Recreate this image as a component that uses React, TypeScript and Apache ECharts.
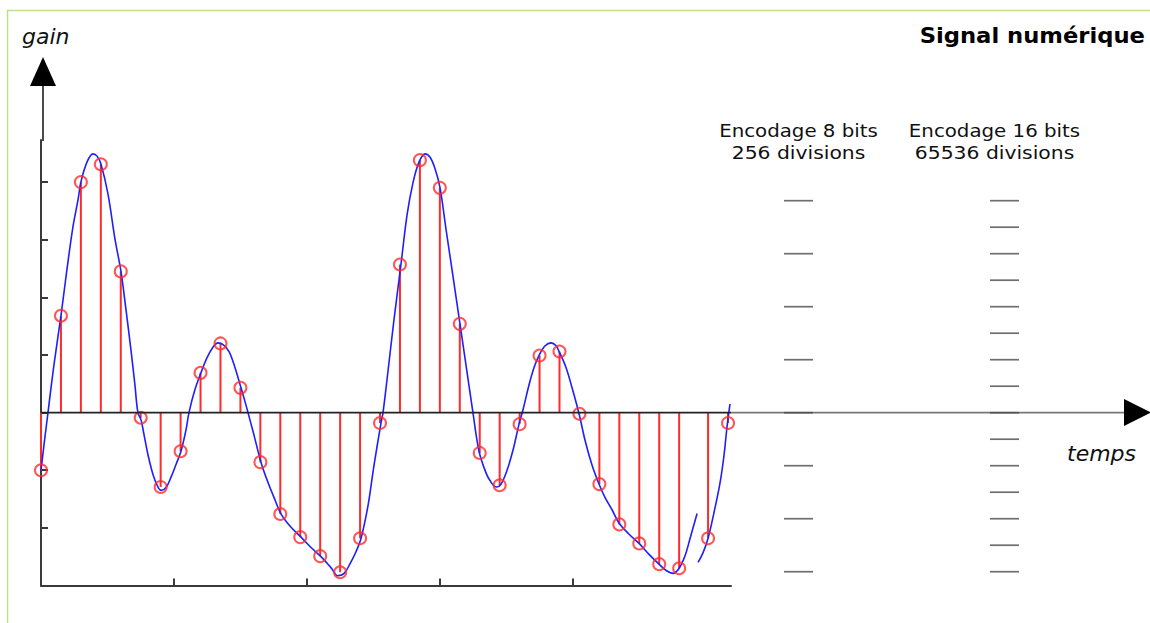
import React, { useEffect, useRef } from "react";
import * as echarts from "echarts";

// ---- data ----
// sample instants (in sample periods) and sampled gain values
const sampleT: number[] = [
  0, 1, 2, 3, 4, 5, 6, 7, 8, 9, 10, 11, 12, 13, 14, 15, 16, 17, 18, 19, 20,
  21, 22, 23, 24, 25, 26, 27, 28, 29, 30, 31, 32, 33.45, 34.45,
];
const sampleV: number[] = [
  -1.0, 1.68, 4.0, 4.31, 2.45, -0.09, -1.29, -0.67, 0.69, 1.2, 0.43, -0.86,
  -1.76, -2.16, -2.49, -2.77, -2.18, -0.18, 2.57, 4.38, 3.9, 1.54, -0.7,
  -1.26, -0.2, 0.99, 1.06, -0.02, -1.24, -1.94, -2.27, -2.63, -2.7, -2.18,
  -0.18,
];
// analog signal, first piece
const curveA: [number, number][] = [
  [0, -1.0], [0.15, -0.56], [0.35, 0], [0.65, 0.83], [1.0, 1.68], [1.3, 2.48],
  [1.6, 3.22], [1.86, 3.7], [2.0, 4.0], [2.31, 4.35], [2.61, 4.49], [2.81, 4.45],
  [3.01, 4.31], [3.36, 3.79], [3.71, 3.01], [4.01, 2.45], [4.26, 1.79],
  [4.51, 1.09], [4.71, 0.48], [4.86, 0], [5.02, -0.13], [5.17, -0.39],
  [5.37, -0.74], [5.62, -1.08], [5.82, -1.26], [6.02, -1.35], [6.27, -1.3],
  [6.52, -1.12], [6.77, -0.9], [7.02, -0.67], [7.27, -0.3], [7.42, 0],
  [7.72, 0.4], [8.02, 0.69], [8.32, 0.95], [8.63, 1.14], [8.88, 1.21],
  [9.13, 1.18], [9.43, 1.06], [9.73, 0.78], [10.03, 0.43], [10.23, 0.19],
  [10.38, 0], [10.68, -0.39], [11.03, -0.86], [11.38, -1.21], [11.74, -1.52],
  [12.04, -1.76], [12.54, -1.99], [13.04, -2.16], [13.54, -2.34], [14.04, -2.5],
  [14.54, -2.69], [14.89, -2.83], [15.2, -2.79], [15.5, -2.62], [15.8, -2.41],
  [16.05, -2.18], [16.4, -1.61], [16.7, -0.91], [17.05, -0.18], [17.15, 0],
  [17.35, 0.57], [17.7, 1.61], [18.05, 2.57], [18.36, 3.44], [18.66, 4.0],
  [18.96, 4.35], [19.26, 4.49], [19.51, 4.43], [19.76, 4.23], [20.01, 3.9],
  [20.31, 3.18], [20.61, 2.48], [21.01, 1.54], [21.31, 0.83], [21.66, 0],
  [21.97, -0.68], [22.32, -1.05], [22.57, -1.21], [22.82, -1.29], [23.07, -1.24],
  [23.37, -1.0], [23.67, -0.65], [23.97, -0.2], [24.17, 0.05], [24.47, 0.48],
  [24.72, 0.78], [24.97, 0.99], [25.28, 1.16], [25.58, 1.21], [25.83, 1.16],
  [25.98, 1.06], [26.33, 0.78], [26.63, 0.43], [26.98, -0.02], [27.28, -0.48],
  [27.63, -0.91], [27.98, -1.24], [28.28, -1.47], [28.64, -1.69], [28.99, -1.92],
  [29.49, -2.11], [29.99, -2.27], [30.49, -2.46], [30.99, -2.63], [31.35, -2.74],
  [31.7, -2.79], [32.0, -2.7], [32.3, -2.48], [32.55, -2.18], [32.9, -1.75],
];
// analog signal, second piece
const curveB: [number, number][] = [
  [32.95, -2.6], [33.2, -2.43], [33.45, -2.18], [33.75, -1.73], [34.05, -1.22],
  [34.25, -0.74], [34.4, -0.25], [34.55, 0.15],
];
const timeTicks: number[] = [6.67, 13.34, 20.01, 26.68];
const gainTicks: number[] = [-3, -2, -1, 0, 1, 2, 3, 4];
const encodings: string[] = ["8 bits", "16 bits"];
const levels8: number[] = [4, 3, 2, 1, 0, -1, -2, -3];
const levels16: number[] = [
  4, 3.5, 3, 2.5, 2, 1.5, 1, 0.5, 0, -0.5, -1, -1.5, -2, -2.5, -3,
];
const encTitles: string[] = ["Encodage 8 bits", "Encodage 16 bits"];
const encDivisions: string[] = ["256 divisions", "65536 divisions"];
const chartTitle = "Signal numérique";
const yName = "gain";
const xName = "temps";

const FONT = "'DejaVu Sans', Verdana, sans-serif";
const AXIS = "#3a3a3a";
const RED = "#ff2a2a";
const BLUE = "#1e1eff";

export default function App() {
  const ref = useRef<HTMLDivElement>(null);
  useEffect(() => {
    if (!ref.current) return;
    const chart = echarts.init(ref.current, null, { renderer: "svg" });
    const option: any = {
      animation: false,
      backgroundColor: "#ffffff",
      grid: [
        { left: 41, right: 419, top: 140, bottom: 37.5 },
        { left: 695.5, right: 42.5, top: 140, bottom: 37.5 },
      ],
      xAxis: [
        {
          type: "value",
          gridIndex: 0,
          min: 0,
          max: 34.6,
          axisLine: { show: true, onZero: false, lineStyle: { color: AXIS, width: 2 } },
          axisTick: {
            show: true,
            inside: true,
            length: 7,
            customValues: timeTicks,
            lineStyle: { color: AXIS, width: 2 },
          },
          axisLabel: { show: false },
          splitLine: { show: false },
        },
        {
          type: "category",
          gridIndex: 1,
          data: encodings,
          show: false,
        },
      ],
      yAxis: [
        {
          type: "value",
          gridIndex: 0,
          min: -3,
          max: 4.73,
          axisLine: { show: true, onZero: false, lineStyle: { color: AXIS, width: 2 } },
          axisTick: {
            show: true,
            inside: true,
            length: 7,
            customValues: gainTicks,
            lineStyle: { color: AXIS, width: 2 },
          },
          axisLabel: { show: false },
          splitLine: { show: false },
        },
        {
          type: "value",
          gridIndex: 1,
          min: -3.26,
          max: 5.145,
          show: false,
          splitLine: { show: false },
        },
      ],
      series: [
        {
          name: "stems",
          type: "bar",
          xAxisIndex: 0,
          yAxisIndex: 0,
          barWidth: 2,
          silent: true,
          itemStyle: { color: RED },
          data: sampleT.map((t, i) => [t, sampleV[i]]),
          z: 2,
        },
        {
          name: "signalA",
          type: "line",
          xAxisIndex: 0,
          yAxisIndex: 0,
          smooth: 0.35,
          showSymbol: false,
          silent: true,
          lineStyle: { color: BLUE, width: 1.6 },
          data: curveA,
          z: 3,
        },
        {
          name: "signalB",
          type: "line",
          xAxisIndex: 0,
          yAxisIndex: 0,
          smooth: 0.35,
          showSymbol: false,
          silent: true,
          lineStyle: { color: BLUE, width: 1.6 },
          data: curveB,
          z: 3,
        },
        {
          name: "samples",
          type: "scatter",
          xAxisIndex: 0,
          yAxisIndex: 0,
          symbol: "circle",
          symbolSize: 12,
          clip: true,
          silent: true,
          itemStyle: { color: "rgba(0,0,0,0)", borderColor: RED, borderWidth: 2 },
          data: sampleT.map((t, i) => [t, sampleV[i]]),
          z: 4,
        },
        {
          name: "levels",
          type: "scatter",
          xAxisIndex: 1,
          yAxisIndex: 1,
          symbol: "rect",
          symbolSize: [29, 1.7],
          silent: true,
          itemStyle: { color: "#4a4a4a" },
          data: [
            ...levels8.map((v) => [encodings[0], v]),
            ...levels16.map((v) => [encodings[1], v]),
          ],
        },
      ],
    };
    chart.setOption(option);

    const p0 = chart.convertToPixel({ gridIndex: 0 }, [0, 0]) as number[];
    const pEnd = chart.convertToPixel({ gridIndex: 0 }, [34.6, 0]) as number[];
    const zy = p0[1];
    const textCenters = [798.5, 994.5];

    const encTexts: any[] = [];
    textCenters.forEach((cx, i) => {
      encTexts.push({
        type: "text",
        x: cx,
        y: 130,
        scaleX: 1.1,
        style: {
          text: encTitles[i],
          fontFamily: FONT,
          fontSize: 18,
          fill: "#111",
          align: "center",
          verticalAlign: "middle",
        },
      });
      encTexts.push({
        type: "text",
        x: cx,
        y: 153,
        scaleX: 1.13,
        style: {
          text: encDivisions[i],
          fontFamily: FONT,
          fontSize: 18,
          fill: "#111",
          align: "center",
          verticalAlign: "middle",
        },
      });
    });

    chart.setOption({
      graphic: [
        {
          type: "polyline",
          shape: { points: [[7.5, 623], [7.5, 10.5], [1150, 10.5]] },
          style: { stroke: "#c3de8b", lineWidth: 1.5, fill: null },
          silent: true,
        },
        {
          type: "line",
          shape: { x1: 43, y1: 141, x2: 43, y2: 84 },
          style: { stroke: "#111", lineWidth: 1.5 },
          silent: true,
        },
        {
          type: "polygon",
          shape: { points: [[43, 57], [30, 86], [56, 86]] },
          style: { fill: "#000" },
          silent: true,
        },
        {
          type: "line",
          shape: { x1: p0[0], y1: zy, x2: pEnd[0], y2: zy },
          style: { stroke: "#222", lineWidth: 1.6 },
          z: 10,
          silent: true,
        },
        {
          type: "line",
          shape: { x1: pEnd[0], y1: zy, x2: 1126, y2: zy },
          style: { stroke: "#777", lineWidth: 1.6 },
          silent: true,
        },
        {
          type: "polygon",
          shape: { points: [[1124, zy - 13.5], [1151, zy], [1124, zy + 13.5]] },
          style: { fill: "#000" },
          silent: true,
        },
        {
          type: "text",
          x: 22,
          y: 36,
          style: {
            text: yName,
            fontFamily: FONT,
            fontStyle: "italic",
            fontSize: 22,
            fill: "#111",
            align: "left",
            verticalAlign: "middle",
          },
        },
        {
          type: "text",
          x: 1067,
          y: 453,
          style: {
            text: xName,
            fontFamily: FONT,
            fontStyle: "italic",
            fontSize: 22,
            fill: "#111",
            align: "left",
            verticalAlign: "middle",
          },
        },
        {
          type: "text",
          x: 1145,
          y: 36,
          scaleX: 1.08,
          style: {
            text: chartTitle,
            fontFamily: FONT,
            fontWeight: "bold",
            fontSize: 21,
            fill: "#000",
            align: "right",
            verticalAlign: "middle",
          },
        },
        ...encTexts,
      ],
    });

    return () => {
      chart.dispose();
    };
  }, []);
  return (
    <div
      ref={ref}
      style={{ position: "fixed", left: 0, top: 0, width: 1150, height: 623 }}
    />
  );
}
